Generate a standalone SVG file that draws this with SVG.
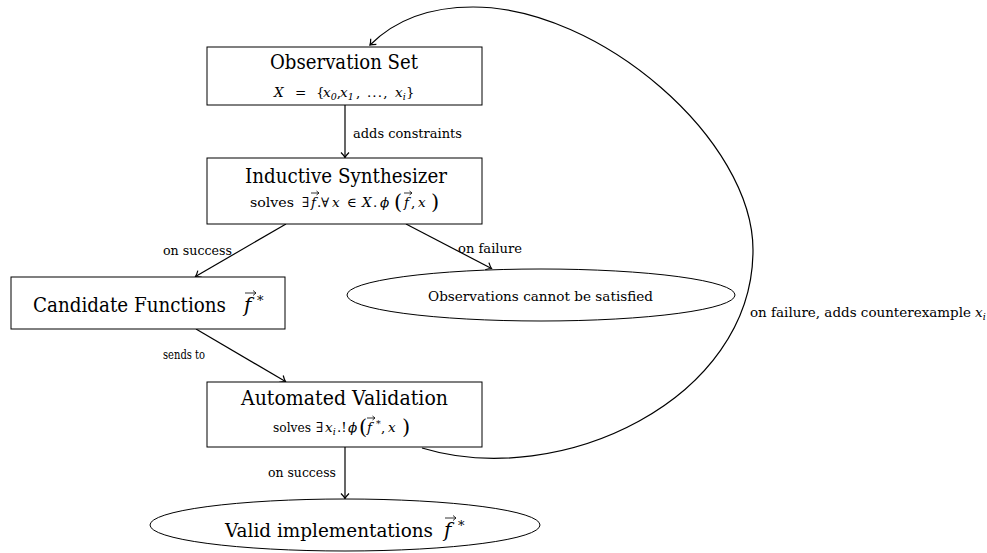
<svg xmlns="http://www.w3.org/2000/svg" width="987" height="553" viewBox="0 0 987 553" font-family="'DejaVu Serif','Liberation Serif',serif">
<defs>
<style>
.box{fill:#fff;stroke:#000;stroke-width:1}
.ell{fill:#fff;stroke:#000;stroke-width:1}
.conn{fill:none;stroke:#000;stroke-width:1.2}
.va{fill:none;stroke:#000;stroke-width:0.8}
text{font-family:'DejaVu Serif','Liberation Serif',serif;fill:#000}
.big{font-size:20px}
.sm{font-size:13.5px}
.it{font-style:italic}
.sub{font-size:9.5px;font-style:italic}
.par{font-size:21px}
</style>
<marker id="ah" markerUnits="userSpaceOnUse" markerWidth="12" markerHeight="12" refX="0" refY="0" viewBox="-6 -6 12 12" orient="auto" overflow="visible">
<path d="M-5,-4 Q-2,-1 0,0 Q-2,1 -5,4" fill="none" stroke="#000" stroke-width="1.2"/>
</marker>
<path id="vs" class="va" d="M0,0 H8 M5.5,-2 L8,0 L5.5,2"/>
<path id="vb" class="va" d="M0,0 H11 M8,-2.5 L11,0 L8,2.5"/>
</defs>

<g id="connectors">
<line class="conn" x1="345" y1="105" x2="345" y2="157.5" marker-end="url(#ah)"/>
<line class="conn" x1="286" y1="224" x2="195.5" y2="276.5" marker-end="url(#ah)"/>
<line class="conn" x1="406" y1="224" x2="491.5" y2="268.5" marker-end="url(#ah)"/>
<line class="conn" x1="196" y1="329" x2="285.5" y2="381.5" marker-end="url(#ah)"/>
<line class="conn" x1="345" y1="447" x2="345" y2="498.5" marker-end="url(#ah)"/>
<path class="conn" d="M422,448 C560,490 753,400 753,250 C753,140 600,7 473,7 C430,7 395,20 370,45" marker-end="url(#ah)"/>
<text class="sm" x="353" y="138" textLength="109" lengthAdjust="spacingAndGlyphs">adds constraints</text>
<text class="sm" x="163" y="255" textLength="69" lengthAdjust="spacingAndGlyphs">on success</text>
<text class="sm" x="458" y="253" textLength="64" lengthAdjust="spacingAndGlyphs">on failure</text>
<text class="sm" x="163" y="359" textLength="42" lengthAdjust="spacingAndGlyphs">sends to</text>
<text class="sm" x="268" y="477" textLength="68" lengthAdjust="spacingAndGlyphs">on success</text>
<text class="sm" x="750" y="317"><tspan textLength="221" lengthAdjust="spacingAndGlyphs">on failure, adds counterexample</tspan><tspan class="it" x="975">x</tspan><tspan class="sub" dy="3">i</tspan></text>
</g>

<g id="observation-set">
<rect class="box" x="207" y="47" width="275" height="58"/>
<text class="big" x="270" y="69" textLength="148" lengthAdjust="spacingAndGlyphs">Observation Set</text>
<text class="sm" y="97"><tspan class="it" x="274">X</tspan><tspan x="295">=</tspan><tspan x="316">{</tspan><tspan class="it" x="323">x</tspan><tspan class="sub" dy="3">0</tspan><tspan dy="-3">,</tspan><tspan class="it" x="340">x</tspan><tspan class="sub" dy="3">1</tspan><tspan dy="-3" x="356" textLength="37" lengthAdjust="spacing">, ..., </tspan><tspan class="it" x="395">x</tspan><tspan class="sub" dy="3">i</tspan><tspan dy="-3" x="406">}</tspan></text>
</g>

<g id="inductive-synthesizer">
<rect class="box" x="207" y="158" width="275" height="66"/>
<text class="big" x="245" y="183" textLength="202" lengthAdjust="spacingAndGlyphs">Inductive Synthesizer</text>
<text class="sm" y="207"><tspan x="250" textLength="44" lengthAdjust="spacingAndGlyphs">solves</tspan><tspan x="302">∃</tspan><tspan class="it" x="311">f</tspan><tspan x="317">.</tspan><tspan x="321">∀</tspan><tspan class="it" x="332">x</tspan><tspan x="347">∈</tspan><tspan class="it" x="362">X</tspan><tspan x="373">.</tspan><tspan class="it" x="380">ϕ</tspan><tspan class="par" x="394" dy="2">(</tspan><tspan class="it" x="404" dy="-2">f</tspan><tspan x="411">,</tspan><tspan class="it" x="418">x</tspan><tspan class="par" x="431" dy="2">)</tspan></text>
<use href="#vs" x="311" y="193"/>
<use href="#vs" x="404" y="193"/>
</g>

<g id="observations-unsat">
<ellipse class="ell" cx="541" cy="295" rx="194" ry="26"/>
<text class="sm" x="428" y="301" textLength="225" lengthAdjust="spacingAndGlyphs">Observations cannot be satisfied</text>
</g>

<g id="candidate-functions">
<rect class="box" x="11" y="277" width="274" height="52"/>
<text class="big" y="312"><tspan x="33" textLength="193" lengthAdjust="spacingAndGlyphs">Candidate Functions</tspan><tspan class="it" x="244">f</tspan><tspan font-size="13" x="257" dy="-7">*</tspan></text>
<use href="#vb" x="245" y="293"/>
</g>

<g id="automated-validation">
<rect class="box" x="207" y="382" width="275" height="65"/>
<text class="big" x="241" y="405" textLength="207" lengthAdjust="spacingAndGlyphs">Automated Validation</text>
<text class="sm" y="432"><tspan x="273" textLength="38" lengthAdjust="spacingAndGlyphs">solves</tspan><tspan x="316">∃</tspan><tspan class="it" x="325">x</tspan><tspan class="sub" dy="3">i</tspan><tspan dy="-3" x="337">.!</tspan><tspan class="it" x="348">ϕ</tspan><tspan class="par" x="359" dy="2">(</tspan><tspan class="it" x="367" dy="-2">f</tspan><tspan font-size="9.5" x="376" dy="-5">*</tspan><tspan dy="5" x="381">,</tspan><tspan class="it" x="388">x</tspan><tspan class="par" x="402" dy="2">)</tspan></text>
<use href="#vs" x="367" y="418"/>
</g>

<g id="valid-implementations">
<ellipse class="ell" cx="345" cy="525" rx="195" ry="26"/>
<text x="225" y="537" font-size="18" textLength="208" lengthAdjust="spacingAndGlyphs">Valid implementations</text>
<text class="big" y="537"><tspan class="it" x="444">f</tspan><tspan font-size="13" x="458" dy="-7">*</tspan></text>
<use href="#vb" x="445" y="518"/>
</g>
</svg>
